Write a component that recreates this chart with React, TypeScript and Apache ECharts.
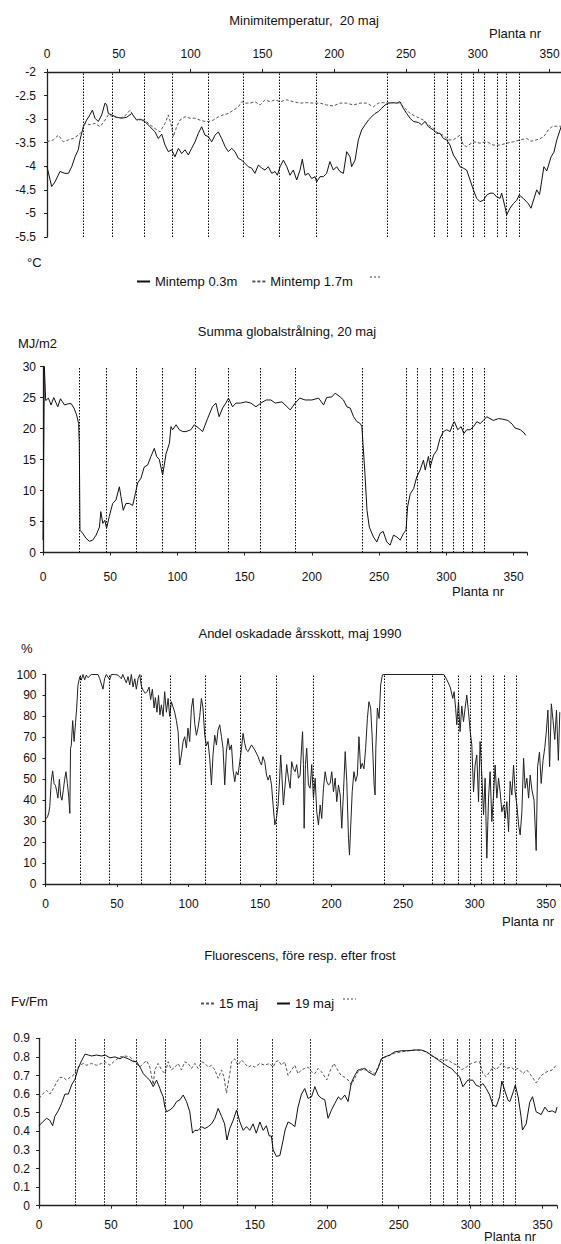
import React, { useEffect, useRef } from "react";
import * as echarts from "echarts";

const FONT = '"Liberation Sans", Arial, Helvetica, sans-serif';

// ---------- Panel 1: Minimitemperatur, 20 maj ----------
const minTemp03: number[][] = [
  [0,-4.01],[3.25,-4.43],[5.6,-4.33],[9.05,-4.11],[12.5,-4.15],[14.9,-4.15],[17.2,-4.01],[19.5,-3.8],[21.8,-3.65],[23,-3.44],
  [25.3,-3.16],[27.6,-3.02],[29.9,-2.91],[31.6,-2.81],[33.4,-2.98],[35.7,-3.05],[38.1,-2.91],[40.4,-2.66],[41.6,-2.7],[42.7,-2.88],
  [45,-2.91],[48.5,-2.96],[52,-2.98],[55.5,-2.96],[59,-2.88],[62.4,-3.02],[64.8,-3.0],[68.2,-3.05],[71.7,-3.16],[75.2,-3.27],
  [77.5,-3.41],[79.9,-3.32],[82.2,-3.55],[84.5,-3.69],[86.8,-3.65],[89.1,-3.8],[91.5,-3.62],[93.8,-3.73],[96.1,-3.65],[98.4,-3.76],
  [100.7,-3.62],[103.1,-3.48],[105.4,-3.3],[107.7,-3.16],[110,-3.34],[112.3,-3.37],[114.7,-3.48],[117,-3.34],[119.3,-3.27],[121.6,-3.41],
  [124,-3.58],[126.3,-3.69],[128.6,-3.62],[130.9,-3.69],[133.2,-3.83],[135.6,-3.87],[137.9,-3.94],[140.2,-4.01],[142.5,-4.04],[144.8,-4.15],
  [147.2,-3.97],[149.5,-4.04],[151.8,-4.08],[154.1,-4.01],[156.5,-4.15],[158.8,-4.11],[160.4,-4.19],[162.3,-4.01],[164.6,-3.87],[167,-4.01],
  [169.2,-4.19],[171.5,-4.08],[173.9,-4.29],[176.2,-4.08],[177.8,-3.85],[179.7,-4.19],[182,-4.15],[184.3,-4.26],[186.6,-4.22],[187.8,-4.33],
  [190.1,-4.22],[192.4,-4.22],[194.7,-4.15],[197,-3.9],[199.4,-4.08],[201.7,-4.01],[204,-4.11],[206.4,-4.15],[208.7,-3.69],[211,-3.8],
  [212.1,-4.01],[214.5,-3.87],[216.8,-3.44],[219.1,-3.23],[221.5,-3.12],[223.8,-3.02],[226.1,-2.95],[228.4,-2.88],[230.7,-2.84],[233,-2.77],
  [235.4,-2.7],[237.7,-2.66],[241.2,-2.65],[243.5,-2.66],[245.8,-2.63],[248.1,-2.77],[250.5,-2.88],[252.8,-2.98],[255.1,-3.05],[258.6,-3.07],
  [260.9,-3.12],[263.2,-3.05],[265.6,-3.16],[269,-3.23],[271.4,-3.3],[273.7,-3.3],[276,-3.41],[278.3,-3.44],[280.6,-3.55],[283,-3.76],
  [285.3,-3.87],[287.6,-4.01],[289.9,-4.04],[292.2,-4.08],[294.6,-4.29],[296.9,-4.5],[299.2,-4.68],[301.5,-4.75],[303.9,-4.72],[306.2,-4.61],
  [308.5,-4.57],[310.8,-4.57],[313.1,-4.65],[315.5,-4.68],[316.6,-4.57],[318.9,-4.86],[320.1,-5.03],[322.4,-4.89],[324.8,-4.79],[327.1,-4.72],
  [328.8,-4.61],[331.6,-4.68],[335.1,-4.79],[337,-4.89],[341,-4.5],[343,-4.6],[346,-4.01],[348,-4.1],[351,-3.8],[353,-3.7],
  [355,-3.44],[358,-3.16]
];
const minTemp17: number[][] = [
  [0,-3.48],[4.4,-3.44],[7.9,-3.34],[11.4,-3.48],[14.9,-3.44],[18.3,-3.41],[21.8,-3.34],[24.1,-3.27],[26.5,-3.09],[29.9,-3.12],
  [33.4,-3.09],[36.9,-3.16],[40.4,-3.02],[42.7,-2.91],[46.2,-2.95],[50.8,-2.98],[54.3,-2.93],[57.8,-2.81],[61.3,-2.98],[64.8,-3.02],
  [68.2,-3.02],[71.7,-3.12],[75.2,-3.2],[78.7,-3.27],[82.2,-3.09],[84.5,-2.91],[86.8,-3.16],[88,-3.37],[90.3,-3.16],[92.6,-3.02],
  [96.1,-2.95],[99.6,-2.98],[103.1,-2.98],[106.5,-3.02],[110,-3.05],[112.3,-3.05],[115.8,-3.02],[119.3,-2.95],[122.8,-2.91],[126.3,-2.88],
  [129.8,-2.81],[133.2,-2.74],[135.6,-2.63],[137.9,-2.66],[141.4,-2.66],[144.8,-2.63],[148.3,-2.7],[151.8,-2.59],[155.3,-2.63],[158.8,-2.59],
  [162.3,-2.63],[167,-2.59],[171.5,-2.63],[176.2,-2.66],[180.8,-2.65],[185.5,-2.66],[190.1,-2.66],[194.7,-2.7],[199.4,-2.72],[204,-2.66],
  [208.7,-2.66],[213.3,-2.7],[218,-2.66],[222.6,-2.66],[227.3,-2.74],[230.7,-2.66],[234.2,-2.65],[238.9,-2.66],[242.4,-2.65],[245.8,-2.66],
  [249.3,-2.77],[252.8,-2.88],[257.4,-2.95],[262.1,-3.02],[265.6,-3.12],[269,-3.2],[272.5,-3.3],[275.9,-3.34],[279.5,-3.44],[282.9,-3.44],
  [287.6,-3.34],[289.9,-3.55],[292.2,-3.58],[296.9,-3.48],[301.5,-3.51],[306.2,-3.48],[310.8,-3.55],[315.5,-3.55],[320.1,-3.51],[324.8,-3.48],
  [329.4,-3.44],[334.1,-3.41],[337,-3.47],[343,-3.42],[346,-3.37],[349,-3.23],[352,-3.15],[358,-3.15]
];
const tempLines = [25.3, 45.5, 67.5, 87.3, 112, 136.5, 161.6, 187.8, 237.2, 269.7, 279, 288.8, 296.9, 304.6, 313.2, 320.1, 328.9];

// ---------- Panel 2: Summa globalstrålning, 20 maj ----------
const globalRad: number[][] = [
  [0,2],[1,30],[2,24.5],[4,24.9],[6,23.8],[8,25],[11,23.5],[13,24.8],[16,23.8],[19,24],[21,24],[23,23.3],[25,22.2],[26.5,20.8],[27,17.6],
  [27.5,3.6],[29.5,3.1],[32,2.3],[34.5,1.8],[37,2.0],[39.5,2.8],[42,4.1],[43,6.6],[44.5,4.7],[46,5.2],[47.3,3.9],[49.3,5.8],[51.8,7.9],
  [54.3,8.5],[56.8,10.6],[58,9.0],[59.7,6.8],[61.7,7.9],[64.2,7.9],[66.7,7.6],[68.7,9.5],[70.4,11.2],[72.9,12.0],[75.3,13.8],[77.8,14.1],
  [80.3,15.5],[82.8,16.8],[84.5,15.5],[86.5,15.0],[89,12.5],[91.5,15.9],[94,17.6],[95.2,20.3],[96.4,19.8],[99,20.6],[101.4,19.8],[104,19.5],
  [106.3,19.5],[110,19.8],[112.5,20.6],[116.2,20.0],[118.7,19.5],[122.4,21.6],[126,23.5],[128.6,24.1],[131,21.9],[133.6,23.3],[136,24.1],
  [138,24.9],[141,23.5],[143.5,24.1],[147,24.1],[151,24.3],[154.6,24.1],[158.4,23.5],[162,24.1],[166,24.6],[169.5,24.6],[172.7,24.1],
  [177.7,24.3],[183.9,23.0],[187.6,24.1],[191,24.9],[195,24.6],[200,24.6],[205,24.9],[208.7,23.8],[211,25],[214.9,25.1],[217.3,25.7],
  [221,25.1],[223.5,24.6],[226,23.5],[228.5,23.3],[231,21.9],[233.5,21.1],[236,20.8],[237.2,20.3],[238,17.6],[239.3,13.3],[241,6.8],
  [242.7,4.1],[245.8,2.5],[248.3,1.7],[250.8,3.1],[253,3.4],[255.7,1.7],[258.2,1.2],[260.7,2.8],[263.2,2.5],[265.7,2.0],[268.2,3.1],
  [270,3.6],[271.2,7.4],[273.2,9.5],[275.7,10.3],[278,12.2],[280.5,13.3],[283,14.9],[284.3,13.3],[286.7,15.5],[288,13.8],[290.5,15.7],
  [293,16.5],[295.3,18.4],[297.8,19.5],[300.3,19.8],[302.8,19.5],[304.6,20.6],[306,21.1],[308.5,19.8],[311,20.3],[313,19.2],[315.2,19.8],
  [317.7,19.8],[320.2,20.3],[322.7,21.1],[325.2,20.8],[327.6,21.3],[330,21.9],[332.5,21.6],[335,21.3],[338.8,21.6],[342,21.5],[345.8,21.3],
  [349,20.7],[351,20.1],[355,19.8],[357.8,19.3],[359,18.9]
];
const radLines = [27, 46.8, 69.1, 89, 113, 138, 161.3, 187.6, 237.2, 269.9, 278.5, 288, 296.7, 305.4, 312.8, 319.5, 328.1];

// ---------- Panel 3: Andel oskadade årsskott, maj 1990 ----------
const undamaged: number[][] = [
  [0,31],[1.4,32],[2.3,34],[3,37],[4,49],[5,54],[6,48],[7,47],[7.9,44],[8.7,41],[9.7,50],[10.6,42],[11.5,40],[12.5,45],[13.4,50],
  [14.3,53.6],[15.3,48],[16.2,42],[17,33.7],[17.5,64.8],[18,66],[19,78],[20,68],[21,77],[21.8,84],[22.7,95],[24,99],[25,97.3],[26.2,100],
  [27.4,97.5],[28.5,99.7],[29.7,98.5],[32,100],[36.7,100],[37.9,98],[40.2,93],[41.3,98],[42.5,100],[44.9,97.5],[46,100],[48.4,100],
  [50.7,99.7],[53,98],[54,100],[56.5,96],[57.7,99],[58.9,95],[60,100],[61.2,94],[62.4,98],[63.5,93],[64.7,98],[65.9,100],[67,94.5],
  [68.2,92.5],[69.8,91],[71.2,92],[72.4,94],[73.5,88],[74.7,93],[75.9,84],[76.8,89],[77.9,82],[79,90],[80,80.7],[81,85.5],[82.2,80],
  [83.3,91.8],[84.5,82],[85.7,88.6],[86.8,80],[88,87],[89.1,84.6],[90.3,82],[91.5,78],[92.7,72.7],[93.8,56.8],[95,61.6],[96.2,68],
  [97.3,70.3],[98.5,65],[99.6,74.4],[100.8,68],[102,83.9],[103.1,88.6],[104.3,76.6],[105.5,71],[106.6,74.4],[107.8,80],[109,88.6],
  [110.1,84],[111.3,71],[112.5,66],[113.6,68],[114.8,60],[116,47.3],[117.1,61.6],[118.3,71],[119.5,66.4],[120.6,73.5],[121.8,76],
  [123,70.3],[124.1,64.8],[125.3,47.3],[126.4,63],[127.6,69.5],[128.8,64],[130,66.4],[131.1,54.4],[132.3,48.8],[133.4,53.6],[134.6,52],
  [135.8,58.4],[137,64.8],[138.1,71.9],[139.3,67],[140.4,64],[141.6,63.2],[144,66.4],[146.3,64],[148.6,60.8],[149.8,58.4],[151,56.8],
  [152,60.8],[153.3,58.4],[154.5,52],[155.6,49.6],[156.8,52],[158,47.3],[159.1,37.7],[160.3,28.2],[161.4,31.3],[162.6,37.7],[163.7,50.5],
  [164.4,61.6],[165,55],[166.3,37.7],[167.5,47.3],[168.6,57],[169.8,50.5],[171,45.7],[172.1,58.4],[173.3,55],[174.5,53.6],[175.6,57],
  [176.8,50.5],[178,52],[179.1,66.4],[179.7,72.7],[180.3,57],[180.8,26.6],[181.7,57],[182.6,64.8],[183.8,47.3],[185,45.7],[186.1,57],
  [187.3,41],[188.5,50.5],[189.6,34.5],[190.8,28.2],[192,37.7],[193.1,31.3],[194.3,45.7],[195.5,53.6],[196.6,49],[197.8,47.3],[199,48],
  [200.1,53.6],[201.3,44],[202.5,50.5],[203.6,39.3],[204.8,47.3],[206,42.5],[207.1,26.6],[208.3,44],[209.5,63.2],[210.6,49],[211.8,21.8],
  [212.5,13.8],[213.4,28.2],[214.4,44],[215.6,53.6],[216.8,49],[218,52],[219.1,70.3],[220.3,55],[221.4,57.6],[222.6,55],[223.8,64.8],
  [225,79],[226.1,87],[227.3,84],[228.5,68],[229.7,47.3],[230.4,42.5],[230.9,64.8],[232,84],[233.2,79],[234.3,95],[235.5,99.8],[236.6,100],
  [278.5,100],[280.6,97.4],[282.9,94],[284.7,88.6],[285.6,91.8],[286.7,83.9],[287.5,76],[288.7,87],[289.8,72.7],[291,85],[292.2,77.5],
  [293.3,83.9],[294.5,90.2],[295.7,82.2],[296.9,72.7],[298,66.4],[299.2,44],[300.3,56.8],[301.5,61.6],[302.7,39.3],[303.8,68],[305,52],
  [306.2,33],[307.3,50.5],[308.5,12.3],[309.7,41],[310.8,53.6],[312,29.8],[313.2,42.5],[314.3,56.8],[315.5,41],[316.7,50.5],[317.8,44],
  [319,34.5],[320.2,37.7],[321.3,31.3],[322.5,39.3],[323.7,25],[324.8,49],[326,42.5],[327.2,56.8],[328.3,44],[329.5,37.7],[330.7,28.2],
  [331.8,23.4],[333,34.5],[334.2,60],[335.3,45.7],[336.5,50.5],[337.7,41],[338.8,52],[340,45],[341.5,40],[343,16],[344,56],[345.3,63],
  [346.5,48],[347.8,59],[349,65],[350,72],[351.2,83],[352.4,56],[353.6,86],[354.8,78],[356,69],[357.2,83],[358.5,59],[359.5,82]
];
const shootLines = [24.6, 44.9, 66.6, 87.3, 111.7, 136.2, 161, 187.3, 237, 270, 278.7, 288.7, 296.9, 304.6, 312.7, 320.6, 329];

// ---------- Panel 4: Fluorescens, före resp. efter frost ----------
const fluor15: number[][] = [
  [0,0.577],[2.5,0.6],[5.3,0.62],[7.6,0.6],[10,0.63],[12.3,0.665],[14.6,0.69],[16.9,0.69],[19.2,0.675],[21.5,0.69],[23.8,0.7],
  [26.2,0.735],[28.5,0.755],[30.8,0.765],[33,0.755],[36.5,0.765],[40,0.755],[43.5,0.765],[45.8,0.774],[49.3,0.755],[52.8,0.78],
  [56.3,0.8],[59.7,0.805],[63.2,0.8],[66.7,0.774],[70,0.745],[72.5,0.765],[74.8,0.78],[77,0.745],[79.4,0.65],[80.5,0.73],[82.8,0.765],
  [85.2,0.73],[87.5,0.71],[89.8,0.774],[92,0.73],[94.4,0.745],[96.7,0.765],[99,0.73],[101.3,0.774],[103.7,0.765],[106,0.738],[108.3,0.765],
  [110.6,0.738],[113,0.774],[115.3,0.765],[117.6,0.745],[119.9,0.755],[122.2,0.73],[124.5,0.685],[126.9,0.73],[128.5,0.693],[130.3,0.605],
  [132.6,0.71],[133.8,0.774],[136,0.79],[138.3,0.755],[140.7,0.783],[143,0.765],[145.4,0.745],[147.7,0.755],[150,0.745],[153.5,0.765],
  [157,0.755],[160.3,0.765],[162.7,0.745],[164.5,0.774],[166.5,0.78],[168.5,0.755],[170.8,0.774],[173.1,0.7],[175.5,0.73],[177.8,0.755],
  [180,0.71],[182.4,0.73],[184.7,0.738],[187,0.745],[189.4,0.72],[191.7,0.71],[194,0.738],[196.3,0.72],[200,0.676],[202.6,0.73],[205,0.765],
  [207.5,0.73],[210,0.7],[212.5,0.69],[214.8,0.676],[217,0.65],[219.4,0.685],[221.7,0.72],[224,0.738],[226.4,0.73],[228.7,0.73],[231,0.72],
  [233.3,0.71],[235.7,0.745],[238,0.79],[242.6,0.805],[247.2,0.82],[251.9,0.827],[256.5,0.833],[261.1,0.837],[265.7,0.837],[269.2,0.827],
  [273.8,0.8],[277.3,0.79],[280.8,0.783],[284.3,0.783],[287.7,0.765],[291,0.755],[293.5,0.73],[297,0.745],[300.5,0.765],[304,0.774],
  [306.2,0.774],[308.5,0.71],[310.8,0.693],[313.2,0.72],[315.5,0.745],[317.8,0.73],[321.2,0.765],[324.7,0.738],[328.2,0.745],[330.5,0.73],
  [333,0.738],[336.4,0.71],[339,0.73],[343,0.69],[345.5,0.66],[349,0.7],[353,0.72],[356.7,0.73],[360,0.76]
];
const fluor19: number[][] = [
  [0,0.43],[2.5,0.45],[5.3,0.47],[7.4,0.46],[9.5,0.43],[11,0.48],[13.4,0.51],[15.7,0.55],[18,0.6],[20.4,0.6],[22.7,0.65],[25,0.68],
  [27.3,0.74],[29.6,0.78],[32,0.815],[34.3,0.81],[36.6,0.805],[40,0.81],[43.5,0.805],[46,0.81],[49.3,0.795],[52.8,0.8],[56.3,0.79],
  [58.6,0.8],[62,0.79],[65.5,0.775],[67.8,0.775],[70.2,0.745],[72.5,0.71],[74.8,0.69],[77,0.675],[79.4,0.64],[81.7,0.675],[83,0.65],
  [84,0.63],[85.2,0.605],[86.3,0.586],[87.5,0.53],[88.7,0.505],[91,0.515],[93.3,0.53],[95.7,0.56],[98,0.57],[100.2,0.595],[102.5,0.56],
  [104.8,0.505],[106.7,0.39],[108.3,0.405],[110.6,0.405],[113,0.425],[115.3,0.415],[117.6,0.425],[119.9,0.44],[122.2,0.47],[124.5,0.523],
  [126.9,0.48],[129,0.44],[130.6,0.353],[132.6,0.415],[135,0.46],[137.3,0.514],[139.6,0.45],[141.9,0.405],[144.2,0.425],[146.5,0.405],
  [148.8,0.44],[151,0.39],[153.5,0.45],[155.8,0.405],[158,0.43],[160,0.375],[161.5,0.375],[162.7,0.3],[165,0.265],[167.4,0.27],[169.6,0.35],
  [171,0.407],[173.1,0.45],[175.5,0.44],[177.8,0.425],[180,0.53],[182.4,0.6],[184.7,0.63],[187,0.577],[189.4,0.585],[191.7,0.64],[194,0.595],
  [196.3,0.577],[198.6,0.57],[200.9,0.47],[203.3,0.515],[205.6,0.55],[208,0.585],[210,0.57],[212.5,0.595],[214.8,0.56],[217,0.66],
  [219.4,0.7],[221.7,0.73],[224,0.73],[226.4,0.74],[228.7,0.72],[231,0.71],[233.3,0.7],[235.7,0.74],[238,0.79],[240.3,0.8],[243.8,0.81],
  [247.2,0.827],[251.9,0.833],[256.5,0.833],[261.1,0.837],[265.7,0.837],[269.2,0.827],[272.7,0.81],[277.5,0.783],[281,0.765],[284.3,0.747],
  [286.6,0.738],[290,0.71],[292.3,0.693],[294.6,0.64],[298,0.675],[301.5,0.675],[303.8,0.648],[306.2,0.64],[308.5,0.657],[310.8,0.63],
  [313.2,0.595],[315.5,0.54],[317.8,0.533],[320.1,0.585],[321.7,0.67],[324,0.612],[326,0.567],[327.3,0.56],[329.6,0.612],[331,0.648],
  [333,0.585],[335,0.48],[336,0.407],[338.6,0.44],[341,0.555],[343,0.586],[345.5,0.505],[349,0.49],[351.6,0.53],[354,0.505],[356.7,0.51],
  [359,0.5],[360,0.53]
];
const fluorLines = [25, 45.1, 67.4, 87.5, 112.3, 137.7, 162, 188.7, 238.4, 271.7, 280.8, 290.8, 298.8, 306.9, 314.8, 322.4, 331];

const xTickFormatter = (v: number) => (v % 50 === 0 ? String(v) : "");

function vLines(values: number[]) {
  return {
    silent: true,
    symbol: ["none", "none"],
    label: { show: false },
    emphasis: { disabled: true },
    lineStyle: { color: "#000", type: [1.5, 1.5], width: 1 },
    data: values.map((v) => ({ xAxis: v })),
  };
}

function axisBase(labelMargin: number) {
  return {
    axisLine: { show: true, onZero: false, lineStyle: { color: "#222", width: 1.3 } },
    axisTick: { show: true, length: 3, lineStyle: { color: "#222" } },
    axisLabel: { color: "#111", fontSize: 12, fontFamily: FONT, margin: labelMargin },
    splitLine: { show: false },
  };
}

function txt(text: string, x: number, y: number, align: string = "left", size = 13) {
  return {
    type: "text",
    x,
    y,
    silent: true,
    style: {
      text,
      fill: "#111",
      font: `${size}px ${FONT}`,
      textAlign: align,
      textVerticalAlign: "middle",
      align,
      verticalAlign: "middle",
    },
  };
}

function dotted(x1: number, x2: number, y: number) {
  return {
    type: "line",
    silent: true,
    shape: { x1, y1: y, x2, y2: y },
    style: { stroke: "#444", lineWidth: 1, lineDash: [2, 2] },
  };
}

const solidStyle = { color: "#111", width: 1 };
const dotStyle = { color: "#555", width: 1, type: [3, 2] };

export default function App() {
  const ref = useRef<HTMLDivElement>(null);
  useEffect(() => {
    if (!ref.current) return;
    const chart = echarts.init(ref.current, undefined, { renderer: "svg" });
    const grids = [
      { left: 47, top: 72, width: 517, height: 165 },
      { left: 43, top: 366.5, width: 484, height: 186 },
      { left: 45.5, top: 674.5, width: 515, height: 209.5 },
      { left: 39, top: 1038.3, width: 518, height: 167.4 },
    ].map((g) => ({ ...g, containLabel: false, outerBoundsMode: "none" }));

    const xMargins = [12, 18, 14, 13];
    const xAxis = grids.map((_, i) => {
      const b: any = axisBase(xMargins[i]);
      return {
        ...b,
        gridIndex: i,
        type: "value",
        min: 0,
        max: 360,
        interval: 50,
        position: i === 0 ? "top" : "bottom",
        axisLabel: { ...b.axisLabel, formatter: xTickFormatter },
      };
    });
    const yAxis = [
      { ...axisBase(11), gridIndex: 0, type: "value", min: -5.5, max: -2, interval: 0.5 },
      { ...axisBase(7), gridIndex: 1, type: "value", min: 0, max: 30, interval: 5 },
      { ...axisBase(9), gridIndex: 2, type: "value", min: 0, max: 100, interval: 10 },
      { ...axisBase(9), gridIndex: 3, type: "value", min: 0, max: 0.9, interval: 0.1 },
    ];

    const common = {
      type: "line",
      showSymbol: false,
      symbol: "none",
      animation: false,
      emphasis: { disabled: true },
    };

    const series = [
      { ...common, name: "Mintemp 0.3m", xAxisIndex: 0, yAxisIndex: 0, data: minTemp03, lineStyle: solidStyle, itemStyle: { color: "#111" }, markLine: vLines(tempLines) },
      { ...common, name: "Mintemp 1.7m", xAxisIndex: 0, yAxisIndex: 0, data: minTemp17, lineStyle: dotStyle, itemStyle: { color: "#555" } },
      { ...common, name: "Summa globalstrålning", xAxisIndex: 1, yAxisIndex: 1, data: globalRad, lineStyle: solidStyle, itemStyle: { color: "#111" }, markLine: vLines(radLines) },
      { ...common, name: "Andel oskadade årsskott", xAxisIndex: 2, yAxisIndex: 2, data: undamaged, lineStyle: { color: "#222", width: 1 }, itemStyle: { color: "#222" }, markLine: vLines(shootLines) },
      { ...common, name: "15 maj", xAxisIndex: 3, yAxisIndex: 3, data: fluor15, lineStyle: dotStyle, itemStyle: { color: "#555" }, markLine: vLines(fluorLines) },
      { ...common, name: "19 maj", xAxisIndex: 3, yAxisIndex: 3, data: fluor19, lineStyle: solidStyle, itemStyle: { color: "#111" } },
    ];

    const legendText = { fontSize: 13, color: "#111", fontFamily: FONT };
    const legendBase = {
      itemWidth: 13,
      itemHeight: 10,
      selectedMode: false,
      textStyle: legendText,
      itemStyle: { opacity: 0 },
    };
    const legend = [
      { ...legendBase, left: 131, top: 270, itemGap: 14, data: ["Mintemp 0.3m", "Mintemp 1.7m"] },
      { ...legendBase, left: 195, top: 992, itemGap: 18, data: ["15 maj", "19 maj"] },
    ];

    const graphic = [
      txt("Minimitemperatur,  20 maj", 304, 20, "center"),
      txt("Planta nr", 515, 33, "center"),
      txt("°C", 27, 262),
      dotted(370, 382, 277),
      txt("Summa globalstrålning, 20 maj", 287, 331, "center"),
      txt("MJ/m2", 18, 343),
      txt("Planta nr", 478, 591, "center"),
      txt("Andel oskadade årsskott, maj 1990", 300, 633, "center"),
      txt("%", 21, 648),
      txt("Planta nr", 528, 921, "center"),
      txt("Fluorescens, före resp. efter frost", 300, 955, "center"),
      txt("Fv/Fm", 11, 1001),
      dotted(343, 356, 999),
      txt("Planta nr", 510, 1236, "center"),
    ];

    chart.setOption({
      animation: false,
      backgroundColor: "#fff",
      textStyle: { fontFamily: FONT },
      grid: grids,
      xAxis,
      yAxis,
      series,
      legend,
      graphic,
    } as any);
    return () => chart.dispose();
  }, []);
  return (
    <div
      ref={ref}
      style={{ position: "absolute", left: 0, top: 0, width: 561, height: 1244, background: "#fff" }}
    />
  );
}
